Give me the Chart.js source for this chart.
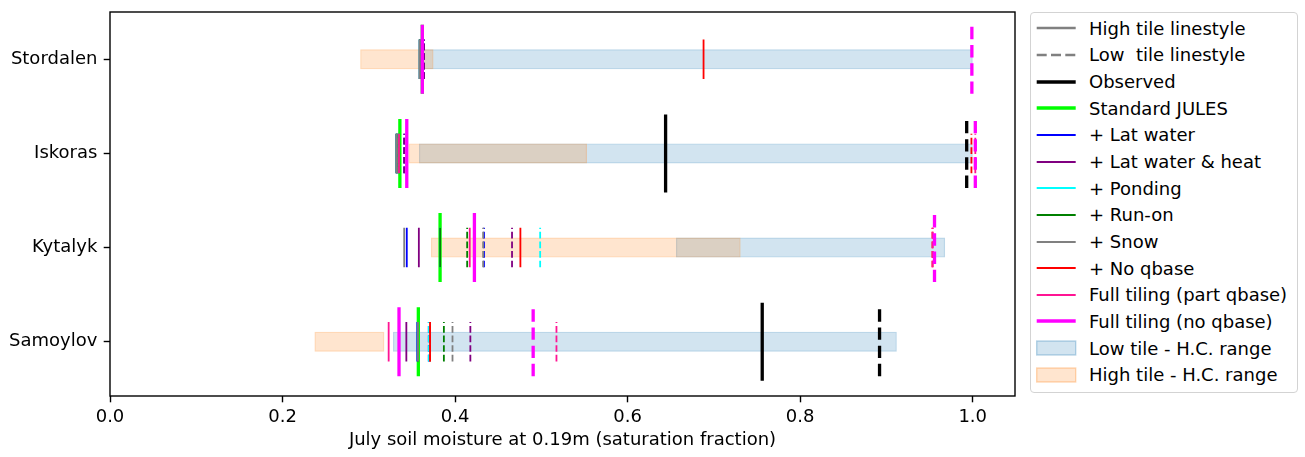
<!DOCTYPE html>
<html>
<head>
<meta charset="utf-8">
<script src="https://cdn.jsdelivr.net/npm/chart.js@4.4.0/dist/chart.umd.min.js"></script>
<style>
body { margin: 0; background: #fff; font-family: 'DejaVu Sans', sans-serif; }
#wrap { position: relative; width: 1305px; height: 457px; overflow: hidden; }
#chartContainer { position: absolute; left: 0; top: 0; }
#legend { position: absolute; left: 1030px; top: 12px; width: 268px; height: 381px;
  border: 1.3px solid #d3d3d3; border-radius: 4px; box-sizing: border-box; background: #fff; }
.lg { position: absolute; white-space: pre; font-size: 18px; line-height: 20px; color: #000; }
.lgkey { position: absolute; }
</style>
</head>
<body>
<div id="wrap">
  <canvas id="chartContainer" width="1305" height="457"></canvas>
  <div id="legend"></div>
</div>
<script>
// sites, top to bottom
var siteNames = ['Stordalen', 'Iskoras', 'Kytalyk', 'Samoylov'];
var xTicks = [0.0, 0.2, 0.4, 0.6, 0.8, 1.0];

// hydraulic conductivity ranges [from, to] per site
var lowTileRange  = [[0.360, 1.000], [0.358, 1.000], [0.656, 0.968], [0.328, 0.912]];
var highTileRange = [[0.290, 0.375], [0.346, 0.553], [0.372, 0.731], [0.237, 0.318]];

// July soil moisture, high tile (solid) and low tile (dashed), per site
var observedHigh   = [null, 0.644, null, 0.756];
var observedLow    = [null, 0.993, null, 0.892];
var standardHigh   = [0.362, 0.336, 0.3826, 0.3574];
var latWaterHigh   = [0.359, 0.3322, 0.344, 0.3562];
var latWaterLow    = [0.364, 0.341, 0.4335, 0.3695];
var latHeatHigh    = [0.359, 0.3322, 0.358, 0.3435];
var latHeatLow     = [0.364, 0.341, 0.466, 0.4177];
var pondingHigh    = [0.359, 0.3322, 0.3826, 0.371];
var pondingLow     = [0.362, 0.334, 0.4986, 0.3695];
var runOnHigh      = [0.359, 0.3322, 0.3826, 0.357];
var runOnLow       = [0.362, 0.334, 0.414, 0.387];
var snowHigh       = [0.359, 0.3322, 0.341, 0.357];
var snowLow        = [0.362, 0.334, 0.4325, 0.397];
var noQbaseHigh    = [0.688, 0.344, 0.4757, 0.371];
var noQbaseLow     = [0.362, 0.9985, 0.9534, 0.371];
var partTileHigh   = [0.362, 0.335, 0.417, 0.323];
var partTileLow    = [0.362, 1.003, 0.9534, 0.5175];
var fullTileHigh   = [0.362, 0.344, 0.4224, 0.335];
var fullTileLow    = [0.999, 1.003, 0.9557, 0.4905];

var runNames = ['Observed', 'Standard JULES', '+ Lat water', '+ Lat water & heat', '+ Ponding',
  '+ Run-on', '+ Snow', '+ No qbase', 'Full tiling (part qbase)', 'Full tiling (no qbase)'];
var runHigh = [observedHigh, standardHigh, latWaterHigh, latHeatHigh, pondingHigh,
  runOnHigh, snowHigh, noQbaseHigh, partTileHigh, fullTileHigh];
var runLow = [observedLow, null, latWaterLow, latHeatLow, pondingLow,
  runOnLow, snowLow, noQbaseLow, partTileLow, fullTileLow];

// styles
var runColors = ['#000000', '#00ff00', '#0000ff', '#800080', '#00ffff',
  '#008000', '#808080', '#ff0000', '#ff1493', '#ff00ff'];
var runThick = [true, true, false, false, false, false, false, false, false, true];
var thickW = 3.3, thinW = 1.8;
var thickDash = [12.4, 5.8], thinDash = [6.7, 2.9];
var thickHalf = 0.367, thinHalf = 0.21, obsHalf = 0.414;

function segPoints(vals, half) {
  var pts = [];
  for (var i = 0; i < vals.length; i++) {
    if (vals[i] === null) continue;
    pts.push({x: vals[i], y: i + half});   // bottom first so dashes start at the bottom
    pts.push({x: vals[i], y: i - half});
    pts.push({x: vals[i], y: null});
  }
  return pts;
}

var datasets = [];
datasets.push({
  type: 'bar', indexAxis: 'y', grouped: false, maxBarThickness: 20,
  data: siteNames.map(function(s, i) { return {x: lowTileRange[i], y: i}; }),
  backgroundColor: 'rgba(31,119,180,0.2)', borderColor: 'rgba(31,119,180,0.3)',
  borderWidth: 1.4, borderSkipped: false, order: 1000
});
datasets.push({
  type: 'bar', indexAxis: 'y', grouped: false, maxBarThickness: 20,
  data: siteNames.map(function(s, i) { return {x: highTileRange[i], y: i}; }),
  backgroundColor: 'rgba(255,127,14,0.2)', borderColor: 'rgba(255,127,14,0.3)',
  borderWidth: 1.4, borderSkipped: false, order: 999
});

var ord = 900;
for (var k = 0; k < runNames.length; k++) {
  var w = runThick[k] ? thickW : thinW;
  var half = runThick[k] ? thickHalf : thinHalf;
  if (runLow[k]) {
    datasets.push({
      type: 'line', data: segPoints(runLow[k], half), borderColor: runColors[k],
      borderWidth: w, borderDash: runThick[k] ? thickDash : thinDash,
      pointRadius: 0, fill: false, spanGaps: false, tension: 0, order: ord--
    });
  }
  datasets.push({
    type: 'line', data: segPoints(runHigh[k], k === 0 ? obsHalf : half), borderColor: runColors[k],
    borderWidth: w, pointRadius: 0, fill: false, spanGaps: false, tension: 0, order: ord--
  });
}

var framePlugin = {
  id: 'frame',
  afterDraw: function(chart) {
    var a = chart.chartArea, c = chart.ctx;
    c.save();
    c.strokeStyle = '#000';
    c.lineWidth = 1.4;
    c.strokeRect(a.left, a.top, a.right - a.left, a.bottom - a.top);
    c.restore();
  }
};

Chart.defaults.font.family = "'DejaVu Sans', sans-serif";
Chart.defaults.font.size = 18;
Chart.defaults.color = '#000';

var myChart = new Chart('chartContainer', {
  type: 'scatter',
  data: { datasets: datasets },
  plugins: [framePlugin],
  options: {
    responsive: false,
    animation: false,
    events: [],
    layout: { padding: { left: 0, right: 290, top: 12, bottom: 0 } },
    plugins: { legend: { display: false }, tooltip: { enabled: false } },
    scales: {
      x: {
        type: 'linear', min: 0, max: 1.049, offset: false,
        afterFit: function(s) { s.height = 61; s.paddingLeft = 0; s.paddingRight = 0; },
        afterBuildTicks: function(s) { s.ticks = xTicks.map(function(v) { return {value: v}; }); },
        ticks: { padding: 4.7, maxRotation: 0, callback: function(v) { return v.toFixed(1); } },
        grid: { offset: false, drawOnChartArea: false, drawTicks: true, tickLength: 6.3, tickColor: '#000', tickWidth: 1.4 },
        border: { display: false },
        title: { display: true, text: 'July soil moisture at 0.19m (saturation fraction)',
          font: { size: 18 }, padding: { top: 0, bottom: 5.6 } }
      },
      y: {
        type: 'linear', min: -0.5025, max: 3.577, reverse: true, offset: false,
        afterFit: function(s) { s.width = 110; s.paddingTop = 0; s.paddingBottom = 0; },
        afterBuildTicks: function(s) { s.ticks = siteNames.map(function(n, i) { return {value: i}; }); },
        ticks: { padding: 6.3, callback: function(v) { return siteNames[v]; } },
        grid: { offset: false, drawOnChartArea: false, drawTicks: true, tickLength: 6.3, tickColor: '#000', tickWidth: 1.4 },
        border: { display: false }
      }
    }
  }
});

// legend, built from the same names and styles
var legendEntries = [
  {label: 'High tile linestyle', color: '#808080', width: 2.7, dash: null},
  {label: 'Low  tile linestyle', color: '#808080', width: 2.7, dash: [10, 4.3]}
];
for (var j = 0; j < runNames.length; j++) {
  legendEntries.push({label: runNames[j], color: runColors[j], width: runThick[j] ? 3.6 : 2, dash: null});
}
legendEntries.push({label: 'Low tile - H.C. range', patch: ['rgba(31,119,180,0.2)', 'rgba(31,119,180,0.3)']});
legendEntries.push({label: 'High tile - H.C. range', patch: ['rgba(255,127,14,0.2)', 'rgba(255,127,14,0.3)']});

var wrap = document.getElementById('wrap');
var svgNS = 'http://www.w3.org/2000/svg';
legendEntries.forEach(function(e, i) {
  var cy = 28.3 + 26.65 * i;
  var svg = document.createElementNS(svgNS, 'svg');
  svg.setAttribute('class', 'lgkey');
  svg.setAttribute('width', '42');
  svg.setAttribute('height', '20');
  svg.style.left = '1036px';
  svg.style.top = (cy - 10) + 'px';
  if (e.patch) {
    var r = document.createElementNS(svgNS, 'rect');
    r.setAttribute('x', '0.7'); r.setAttribute('y', '3');
    r.setAttribute('width', '39'); r.setAttribute('height', '14');
    r.setAttribute('fill', e.patch[0]); r.setAttribute('stroke', e.patch[1]);
    r.setAttribute('stroke-width', '1.4');
    svg.appendChild(r);
  } else {
    var ln = document.createElementNS(svgNS, 'line');
    ln.setAttribute('x1', '0.7'); ln.setAttribute('x2', '39.7');
    ln.setAttribute('y1', '10'); ln.setAttribute('y2', '10');
    ln.setAttribute('stroke', e.color); ln.setAttribute('stroke-width', e.width);
    if (e.dash) ln.setAttribute('stroke-dasharray', e.dash.join(' '));
    svg.appendChild(ln);
  }
  wrap.appendChild(svg);
  var t = document.createElement('div');
  t.className = 'lg';
  t.textContent = e.label;
  t.style.left = '1089px';
  t.style.top = (cy - 9.6) + 'px';
  wrap.appendChild(t);
});
</script>
</body>
</html>
